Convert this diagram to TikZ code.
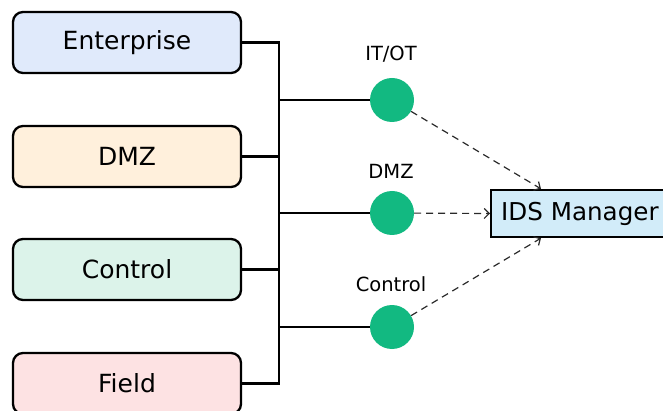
\documentclass[tikz,border=0pt]{standalone}
\usepackage{fontspec}
\setmainfont{DejaVu Sans}
\usetikzlibrary{arrows.meta,calc}
\definecolor{entfill}{HTML}{E0EAFB}
\definecolor{dmzfill}{HTML}{FFF0DC}
\definecolor{ctlfill}{HTML}{DCF3EA}
\definecolor{fldfill}{HTML}{FDE2E3}
\definecolor{idsfill}{HTML}{D2ECF9}
\definecolor{sensor}{HTML}{12B981}
\definecolor{feed}{HTML}{2A2A2A}
\tikzset{
  zone/.style={draw=black, line width=2.3pt, rounded corners=10pt,
    minimum width=228pt, minimum height=61pt, inner sep=0pt,
    font=\fontsize{25}{29}\selectfont},
  wire/.style={line width=2.3pt, draw=black},
  tap/.style={circle, fill=sensor, minimum size=44pt, inner sep=0pt},
  taplabel/.style={anchor=base, font=\fontsize{19.5}{23}\selectfont},
  manager/.style={draw=black, line width=2.3pt, fill=idsfill, anchor=west,
    minimum height=47pt, inner xsep=10pt, inner ysep=0pt,
    font=\fontsize{24.6}{29}\selectfont},
  feedline/.style={draw=feed, line width=1.2pt, dash pattern=on 7pt off 5pt,
    -{Straight Barb[length=5pt,width=10pt,line width=1.2pt]}},
}
\begin{document}
\begin{tikzpicture}[x=1pt,y=-1pt]
\useasboundingbox (0,0) rectangle (663,411);
\clip (0,0) rectangle (663,411);

% network zones
\node[zone, fill=entfill] (ent) at (127,42.5) {Enterprise};
\node[zone, fill=dmzfill] (dmz) at (127,156.5) {DMZ};
\node[zone, fill=ctlfill] (ctl) at (127,269.5) {Control};
\node[zone, fill=fldfill] (fld) at (127,383.5) {Field};

% backbone bus
\coordinate (busTop) at (279,42.5);
\coordinate (busBot) at (279,383.5);
\coordinate (b1) at (279,100);
\coordinate (b2) at (279,213);
\coordinate (b3) at (279,327);

\draw[wire] (ent.east) -- (busTop) -- (busBot) -- (fld.east);
\draw[wire] (dmz.east) -- (dmz.east -| busTop);
\draw[wire] (ctl.east) -- (ctl.east -| busTop);

% sensors
\node[tap] (s1) at (392,100) {};
\node[tap] (s2) at (392,213) {};
\node[tap] (s3) at (392,327) {};
\node[taplabel] (l1) at (391,61) {IT/OT};
\node[taplabel] (l2) at (391,179) {DMZ};
\node[taplabel] (l3) at (391,291) {Control};

\draw[wire] (b1) -- (s1);
\draw[wire] (b2) -- (s2);
\draw[wire] (b3) -- (s3);

% IDS manager
\node[manager] (ids) at (490,213.5) {IDS Manager};
\coordinate (inTop) at ($(ids.north west)+(51,0)$);
\coordinate (inBot) at ($(ids.south west)+(51,0)$);

\draw[feedline] (s1) -- (inTop);
\draw[feedline] (s2) -- (ids.west);
\draw[feedline] (s3) -- (inBot);
\end{tikzpicture}
\end{document}
